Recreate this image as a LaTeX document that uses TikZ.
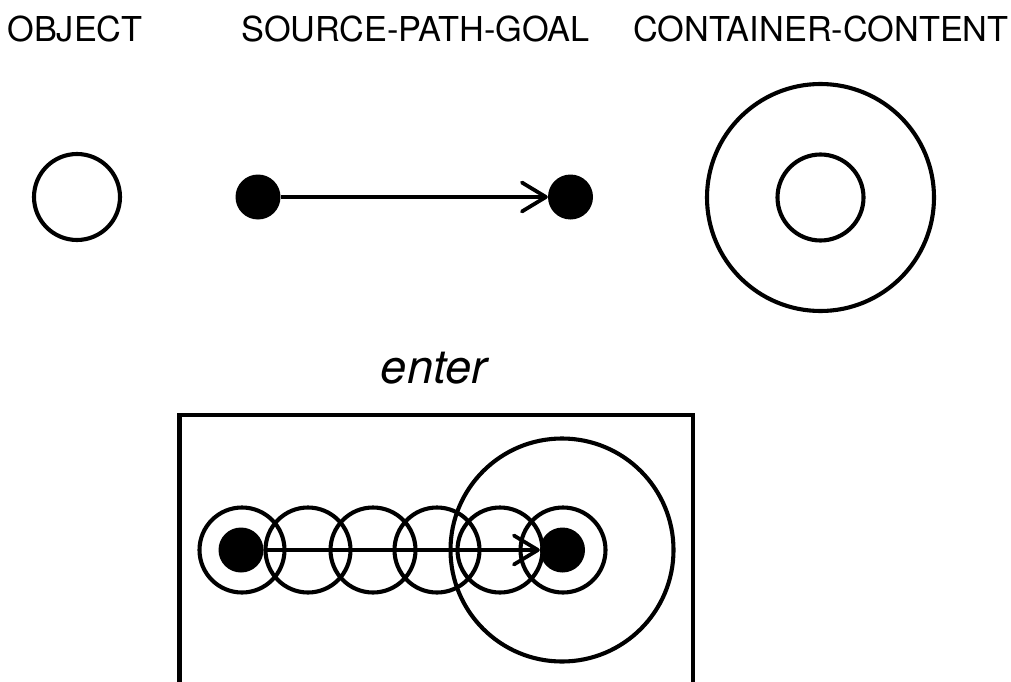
\documentclass[tikz,border=0pt]{standalone}
\usepackage{fontspec}
\setmainfont{TeX Gyre Heros}
\usetikzlibrary{arrows.meta}
\tikzset{
  ring/.style={circle, draw=black, line width=4.1pt, inner sep=0pt, minimum size=#1},
  dot/.style={circle, fill=black, inner sep=0pt, minimum size=45pt},
  pathline/.style={line width=3.8pt, -{Straight Barb[length=24pt, width=29pt, line cap=round, line join=round]}},
  schema/.style={font=\fontsize{34.3}{41}\selectfont, anchor=base, inner sep=0pt},
  verb/.style={font=\fontsize{47}{55}\selectfont\itshape, anchor=base, inner sep=0pt},
}
\begin{document}
\begin{tikzpicture}[x=1pt, y=-1pt]
  \useasboundingbox (0,0) rectangle (1011,682);
  \clip (0,0) rectangle (1011,682);

  % headings
  \node[schema] (tObj) at (75,42) {OBJECT};
  \node[schema] (tSpg) at (415.5,42) {SOURCE-PATH-GOAL};
  \node[schema] (tCc)  at (821,42) {CONTAINER-CONTENT};

  % OBJECT
  \node[ring=86pt] (obj) at (77,197) {};

  % SOURCE-PATH-GOAL
  \node[dot] (src) at (258,197) {};
  \node[dot] (goal) at (570.5,197) {};
  \draw[pathline] (src) -- (goal);

  % CONTAINER-CONTENT
  \node[ring=227pt] (cont) at (820.5,197.5) {};
  \node[ring=86pt] (content) at (820.5,197.5) {};

  % enter
  \node[verb] (tEnter) at (434,383) {enter};
  \draw[line width=4.4pt] (179.5,720) -- (179.5,415) -- (693,415) -- (693,720);

  \node[ring=223pt] (bigc) at (562,550) {};
  \foreach \x [count=\i] in {242,308,373,437,500,563}
    \node[ring=85pt] (m\i) at (\x,550) {};
  \node[dot] (esrc) at (241,550) {};
  \node[dot] (egoal) at (562.5,550) {};
  \draw[pathline] (esrc) -- (egoal);
\end{tikzpicture}
\end{document}
